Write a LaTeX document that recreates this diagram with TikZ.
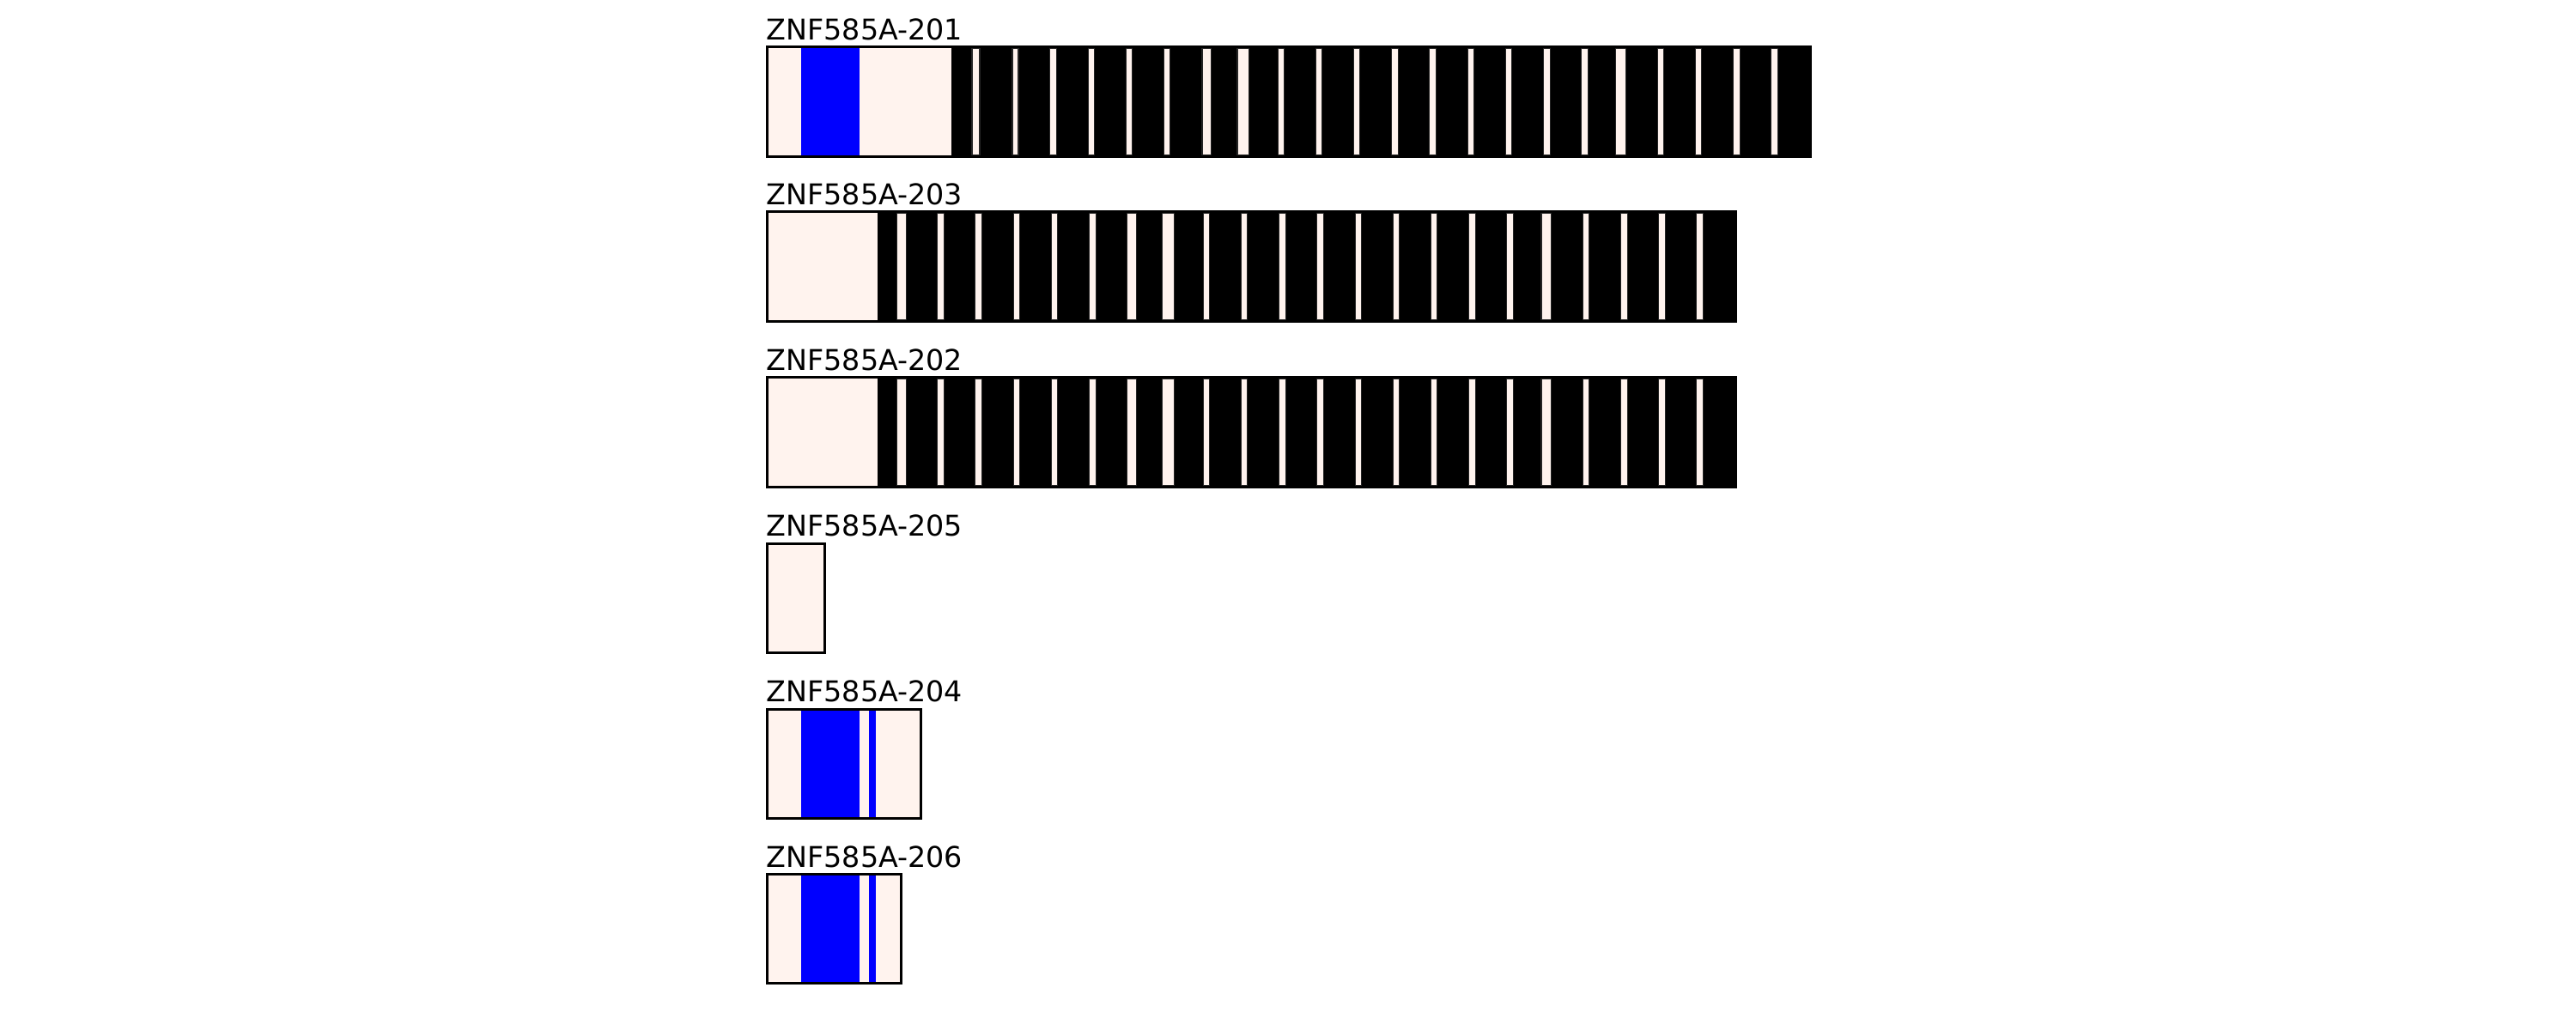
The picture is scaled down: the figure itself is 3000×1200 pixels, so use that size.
\documentclass[tikz,border=0pt]{standalone}
\usepackage{fontspec}
\setmainfont{DejaVu Sans}
\definecolor{utr}{HTML}{FFF3EE}
\definecolor{cds}{HTML}{0000FF}
\begin{document}
\begin{tikzpicture}[x=0.24pt,y=-0.24pt,
  outline/.style={draw=black,line width=0.72pt},
  stripe/.style={fill=utr,draw=black!85,line width=0.25pt},
  lbl/.style={anchor=base west,inner sep=0pt,font=\fontsize{8pt}{9.6pt}\selectfont}]
\useasboundingbox (0,0) rectangle (3000,1200);
\fill[white] (0,0) rectangle (3000,1200);
% ---- bar 1: ZNF585A-201
\def\Ta{55}\def\Ba{182.5}
\fill[utr] (893.5,\Ta) rectangle (1108.3,\Ba);
\fill[cds] (933.3,\Ta) rectangle (1000.7,\Ba);
\fill[black] (1108.3,\Ta) rectangle (2108.7,\Ba);
\foreach \a/\b in {1132/1141,1179/1186,1222.7/1230.3,1267.7/1274.3,1311.7/1318.7,1355.7/1362.3,1400/1410.3,1441/1454.3,1488.7/1495.3,1532.7/1539.3,1576.7/1583.3,1620.7/1628.3,1664.7/1672.3,1709.7/1716.3,1753.3/1760.3,1797.7/1805.3,1841.7/1849.3,1881.7/1893.3,1930.3/1937.3,1974.3/1981.3,2018.7/2026.3,2062.7/2070.3}
  \draw[stripe] (\a,\Ta+1.5) rectangle (\b,\Ba-1.5);
\draw[outline] (893.5,\Ta) rectangle (2108.7,\Ba);
\node[lbl] (l201) at (892,46.7) {ZNF585A-201};
% ---- bars 2 and 3: ZNF585A-203, ZNF585A-202
\foreach \T/\B/\nm/\tx in {247/374.5/l203/ZNF585A-203,440/567.5/l202/ZNF585A-202}{
  \fill[utr] (893.5,\T) rectangle (1021.7,\B);
  \fill[black] (1021.7,\T) rectangle (2021.3,\B);
  \foreach \a/\b in {1044.7/1055.3,1091.7/1099.3,1135.7/1143.3,1180.7/1187.3,1224.7/1231.3,1268.7/1276.3,1312.7/1323.3,1353.7/1367.3,1401.7/1408.3,1445.7/1452.3,1489.7/1497.3,1533.7/1541.3,1578.7/1585.3,1622.7/1629.3,1666.7/1673.3,1710.7/1718.3,1754.3/1762.3,1795/1806.3,1843.7/1850.3,1887.7/1895.3,1931.7/1939.3,1975.7/1983.3}
    \draw[stripe] (\a,\T+1.5) rectangle (\b,\B-1.5);
  \draw[outline] (893.5,\T) rectangle (2021.3,\B);
  \node[lbl] (\nm) at (892,\T-8.3) {\tx};
}
% ---- bar 4: ZNF585A-205
\fill[utr] (893.5,633) rectangle (960,760.5);
\draw[outline] (893.5,633) rectangle (960,760.5);
\node[lbl] (l205) at (892,624.7) {ZNF585A-205};
% ---- bars 5 and 6: ZNF585A-204, ZNF585A-206
\foreach \T/\B/\R/\nm/\tx in {826/953.5/1072/l204/ZNF585A-204,1018.3/1145.7/1049.3/l206/ZNF585A-206}{
  \fill[utr] (893.5,\T) rectangle (\R,\B);
  \fill[cds] (933.3,\T) rectangle (1000.7,\B);
  \fill[cds] (1012.3,\T) rectangle (1019.7,\B);
  \draw[outline] (893.5,\T) rectangle (\R,\B);
  \node[lbl] (\nm) at (892,\T-8.3) {\tx};
}
\end{tikzpicture}
\end{document}
